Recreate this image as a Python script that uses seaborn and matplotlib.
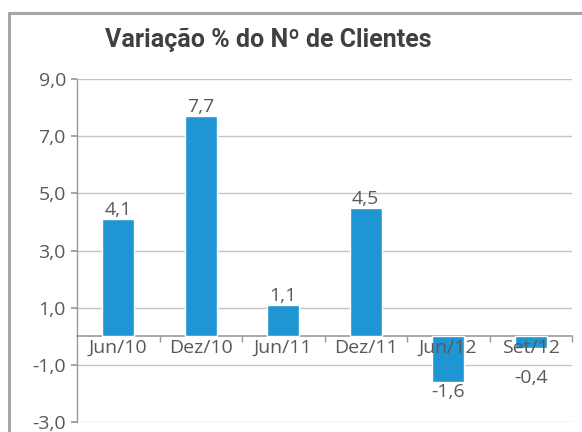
import matplotlib
matplotlib.use("Agg")
import matplotlib.pyplot as plt
import seaborn as sns
import pandas as pd
from matplotlib.lines import Line2D

categories = ["Jun/10", "Dez/10", "Jun/11", "Dez/11", "Jun/12", "Set/12"]
values = [4.1, 7.7, 1.1, 4.5, -1.6, -0.4]
yticks = [-3, -1, 1, 3, 5, 7, 9]
title = "Variação % do Nº de Clientes"

sns.set_theme(style="white")
plt.rcParams["font.family"] = ["Open Sans", "DejaVu Sans"]

txt = "#595959"
bar_color = "#1f95d3"
fs = 14

fig = plt.figure(figsize=(5.82, 4.32), dpi=100)
ax = fig.add_axes([77/582, 1-422/432, (572-77)/582, (422-79)/432])

df = pd.DataFrame({"cat": categories, "val": values})
sns.barplot(data=df, x="cat", y="val", color=bar_color, width=0.39,
            saturation=1, ax=ax, zorder=3)

ax.set_ylim(-3, 9)
ax.set_xlim(-0.5, 5.5)
ax.set_yticks(yticks)
ax.set_yticklabels([f"{v:.1f}".replace(".", ",") for v in yticks], color=txt, fontsize=fs)
for lbl in ax.get_yticklabels():
    lbl.set_verticalalignment("center_baseline")
ax.yaxis.grid(True, color="#c4c4c4", linewidth=1.0)
ax.yaxis.set_zorder(0.5)
ax.xaxis.set_zorder(5)
ax.tick_params(axis="y", length=4, color="#999999", pad=4, left=True)
ax.set_xlabel("")
ax.set_ylabel("")

for s in ["top", "right"]:
    ax.spines[s].set_visible(False)
ax.spines["left"].set_color("#999999")
ax.spines["left"].set_linewidth(1.0)
ax.spines["bottom"].set_position(("data", 0))
ax.spines["bottom"].set_color("#999999")
ax.spines["bottom"].set_linewidth(1.2)

ax.set_xticks(range(len(categories)))
ax.set_xticklabels(categories, color=txt, fontsize=fs)
ax.tick_params(axis="x", which="major", length=0, pad=2)
ax.set_xticks([i + 0.5 for i in range(len(categories))], minor=True)
ax.tick_params(axis="x", which="minor", length=4, color="#999999", bottom=True)

for i, v in enumerate(values):
    lab = f"{v:.1f}".replace(".", ",")
    if v >= 0:
        ax.annotate(lab, (i, v), xytext=(0, 0), textcoords="offset points",
                    ha="center", va="bottom", color=txt, fontsize=fs, zorder=6)
    else:
        ax.annotate(lab, (i, min(v, -1.1)), xytext=(0, -1), textcoords="offset points",
                    ha="center", va="top", color=txt, fontsize=fs, zorder=6)

fig.text(268/582, 1-40/432, title, ha="center", va="center",
         fontsize=18, fontweight="bold", color="#404040",
         family=["Roboto", "Open Sans", "DejaVu Sans"])

# outer frame
fig.add_artist(Line2D([9/582, 9/582], [0, 1-13/432], transform=fig.transFigure,
                      color="#a6a6a6", linewidth=2.2))
fig.add_artist(Line2D([9/582, 1], [1-13/432, 1-13/432], transform=fig.transFigure,
                      color="#a6a6a6", linewidth=2.2))

fig.savefig("out.png", dpi=100)
